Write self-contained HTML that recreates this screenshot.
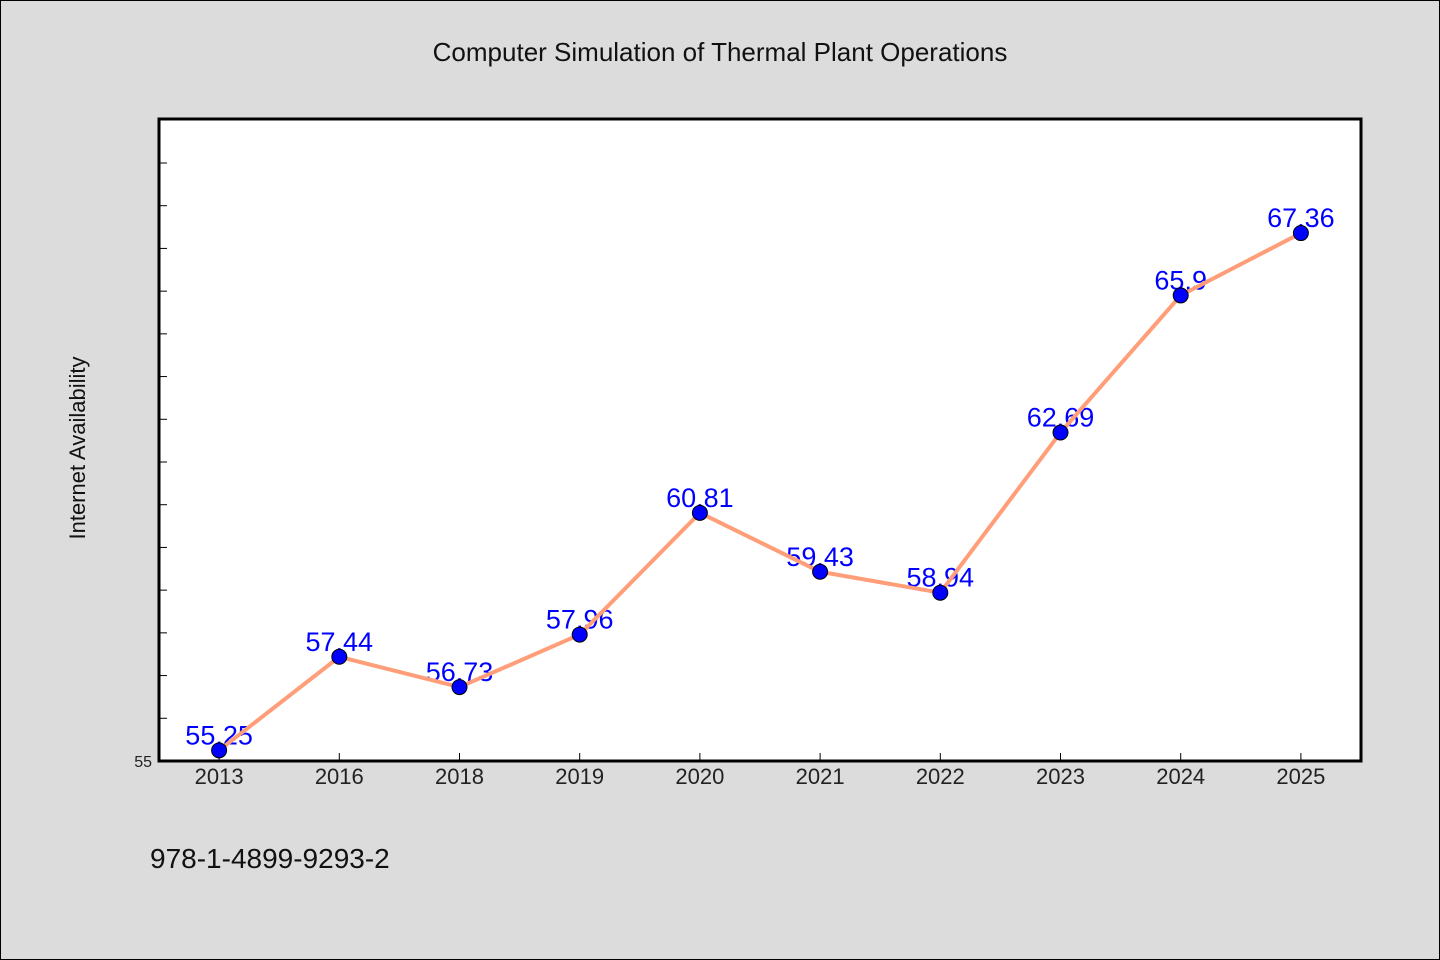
<!DOCTYPE html>
<html><head><meta charset="utf-8"><style>
html,body{margin:0;padding:0;background:#dcdcdc;}
svg{display:block;font-family:"WenQuanYi Zen Hei","Liberation Sans",sans-serif;}
</style></head><body>
<svg id="c" width="1440" height="960" xmlns="http://www.w3.org/2000/svg">
<rect x="0.5" y="0.5" width="1439" height="959" fill="#dcdcdc" stroke="#000"/>
<text x="720" y="61" text-anchor="middle" font-size="26" fill="#111">Computer Simulation of Thermal Plant Operations</text>
<rect x="159" y="119" width="1202" height="642" fill="#fff" stroke="#000" stroke-width="3"/>
<text transform="translate(85,448) rotate(-90)" text-anchor="middle" font-size="22" fill="#111">Internet Availability</text>
<text x="150" y="868" font-size="28" fill="#111">978-1-4899-9293-2</text>
<g id="g"></g>
</svg>
<script>
const categories=["2013","2016","2018","2019","2020","2021","2022","2023","2024","2025"];
const values=[55.25,57.44,56.73,57.96,60.81,59.43,58.94,62.69,65.9,67.36];
const yTicks=[55,56,57,58,59,60,61,62,63,64,65,66,67,68,69];
const yTickLabels=["55"];
const X0=159,W=1202,Y0=761,Y1=119,yMin=55,yMax=70.03;
const xs=i=>X0+W/categories.length*(i+0.5);
const ys=v=>Y0-(v-yMin)/(yMax-yMin)*(Y0-Y1);
const g=document.getElementById('g');
const NS="http://www.w3.org/2000/svg";
function mk(t,a){const e=document.createElementNS(NS,t);for(const k in a)e.setAttribute(k,a[k]);g.appendChild(e);return e;}
yTicks.forEach(v=>{const e=mk('line',{x1:X0,x2:X0+8,y1:ys(v),y2:ys(v),stroke:'#000','stroke-width':1});

});
yTickLabels.forEach(l=>{const e=mk('text',{x:152,y:ys(+l)+6,'text-anchor':'end','font-size':16,fill:'#222'});e.textContent=l;

});
categories.forEach((c,i)=>{const t=mk('line',{x1:xs(i),x2:xs(i),y1:Y0,y2:Y0-8,stroke:'#000','stroke-width':1});


const e=mk('text',{x:xs(i),y:784,'text-anchor':'middle','font-size':22,fill:'#222'});e.textContent=c;

});
values.forEach((v,i)=>{const e=mk('text',{x:xs(i),y:ys(v)-6,'text-anchor':'middle','font-size':27,fill:'#0000ff'});e.textContent=String(v);

});
const line=mk('polyline',{points:values.map((v,i)=>xs(i)+','+ys(v)).join(' '),fill:'none',stroke:'#ff9e78','stroke-width':4,'stroke-linejoin':'round'});


values.forEach((v,i)=>{const e=mk('circle',{cx:xs(i),cy:ys(v),r:7.5,fill:'#0000ff',stroke:'#000','stroke-width':1});

});
</script>
</body></html>
